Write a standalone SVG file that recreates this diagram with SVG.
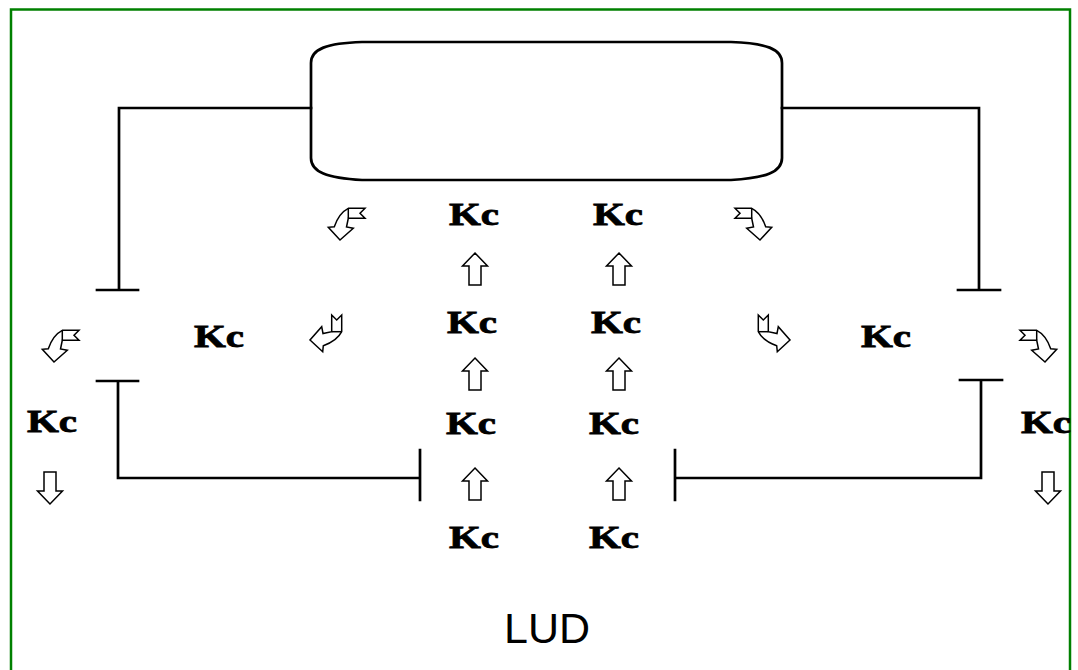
<svg xmlns="http://www.w3.org/2000/svg" xmlns:xlink="http://www.w3.org/1999/xlink" width="1078" height="670" viewBox="0 0 1078 670">
<style>
.ln{fill:none;stroke:#000;stroke-width:2.7;stroke-linecap:square}
.kc{font-family:"Liberation Serif","Times New Roman",serif;font-weight:bold;font-size:31px;fill:#000;stroke:#000;stroke-width:0.8}
.arw{fill:#fff;stroke:#000;stroke-width:1.5;stroke-linejoin:miter}
.lbl{font-family:"Liberation Sans",Arial,sans-serif;font-size:43px;fill:#000}
</style>
<defs>
<g id="bent">
<path class="arw" d="M 8.3,-31.7 L 25,-31.7 L 20,-26.7 L 25,-21.7 L 8.3,-21.7 L 6.5,-13 L 13.3,-11.7 L 0,0 L -11.7,-12.7 L -5.7,-13.3 Q -1,-27 8.3,-31.7 Z"/>
<path class="arw" d="M 8.3,-31.7 L 8.3,-21.7"/>
</g>
<path id="up" class="arw" d="M 0,0 L 12.5,13 L 6,13 L 6,32 L -6,32 L -6,13 L -12.5,13 Z"/>
</defs>
<rect width="1078" height="670" fill="#fff"/>
<rect x="11" y="9.5" width="1059" height="700" fill="none" stroke="#008000" stroke-width="2.5"/>

<g id="connectors">
<path class="ln" d="M 311,108 L 119,108 L 119,290 M 97,290 L 138,290"/>
<path class="ln" d="M 782,108 L 979,108 L 979,290 M 958,290 L 1000,290"/>
<path class="ln" d="M 97,381 L 138,381 M 118,381 L 118,478 L 420,478 M 420,450 L 420,500"/>
<path class="ln" d="M 960,380 L 1002,380 M 981,380 L 981,478 L 675,478 M 675,450 L 675,500"/>
</g>

<g id="box">
<path class="ln" d="M 362,42 L 731,42 C 766,43 782,49 782,63 L 782,158 C 782,172 766,178 731,180 L 362,180 C 327,178 311,172 311,158 L 311,63 C 311,49 327,43 362,42 Z"/>
</g>

<g id="arrows">
<use xlink:href="#bent" transform="translate(340,240)"/>
<use xlink:href="#bent" transform="translate(760,240) scale(-1,1)"/>
<use xlink:href="#bent" transform="translate(54,362)"/>
<use xlink:href="#bent" transform="translate(1045,362) scale(-1,1)"/>
<use xlink:href="#bent" transform="matrix(0,-1,-1,0,310,340)"/>
<use xlink:href="#bent" transform="matrix(0,-1,1,0,790,340)"/>
<use xlink:href="#up" transform="translate(475,253)"/>
<use xlink:href="#up" transform="translate(475,358)"/>
<use xlink:href="#up" transform="translate(475,468)"/>
<use xlink:href="#up" transform="translate(619,253)"/>
<use xlink:href="#up" transform="translate(619,358)"/>
<use xlink:href="#up" transform="translate(619,468)"/>
<use xlink:href="#up" transform="translate(50,504) rotate(180)"/>
<use xlink:href="#up" transform="translate(1048,504) rotate(180)"/>
</g>

<g id="kc-c1r1"><text class="kc" x="449" y="225" textLength="50" lengthAdjust="spacingAndGlyphs">Kc</text></g>
<g id="kc-c1r2"><text class="kc" x="447" y="333" textLength="50" lengthAdjust="spacingAndGlyphs">Kc</text></g>
<g id="kc-c1r3"><text class="kc" x="446" y="434" textLength="50" lengthAdjust="spacingAndGlyphs">Kc</text></g>
<g id="kc-c1r4"><text class="kc" x="449" y="548" textLength="50" lengthAdjust="spacingAndGlyphs">Kc</text></g>
<g id="kc-c2r1"><text class="kc" x="593" y="225" textLength="50" lengthAdjust="spacingAndGlyphs">Kc</text></g>
<g id="kc-c2r2"><text class="kc" x="591" y="333" textLength="50" lengthAdjust="spacingAndGlyphs">Kc</text></g>
<g id="kc-c2r3"><text class="kc" x="589" y="434" textLength="50" lengthAdjust="spacingAndGlyphs">Kc</text></g>
<g id="kc-c2r4"><text class="kc" x="589" y="548" textLength="50" lengthAdjust="spacingAndGlyphs">Kc</text></g>
<g id="kc-left"><text class="kc" x="194" y="347" textLength="50" lengthAdjust="spacingAndGlyphs">Kc</text></g>
<g id="kc-right"><text class="kc" x="861" y="347" textLength="50" lengthAdjust="spacingAndGlyphs">Kc</text></g>
<g id="kc-leftout"><text class="kc" x="27" y="432" textLength="50" lengthAdjust="spacingAndGlyphs">Kc</text></g>
<g id="kc-rightout"><text class="kc" x="1021" y="433" textLength="50" lengthAdjust="spacingAndGlyphs">Kc</text></g>

<g id="title"><text class="lbl" x="504" y="643">LUD</text></g>
</svg>
